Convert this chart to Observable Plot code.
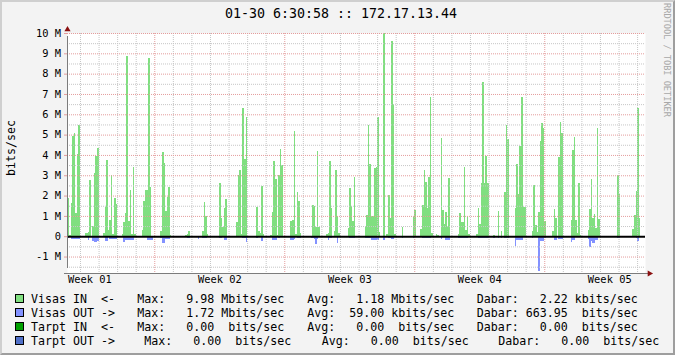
<!DOCTYPE html>
<html>
<head>
<meta charset="utf-8">
<script src="https://cdn.jsdelivr.net/npm/d3@7"></script>
<script src="https://cdn.jsdelivr.net/npm/@observablehq/plot@0.6"></script>
<style>
  html, body { margin: 0; padding: 0; background: #ffffff; }
  #wrap { position: relative; width: 675px; height: 355px; background: #f3f3f3; overflow: hidden;
          font-family: "DejaVu Sans Mono", monospace; color: #000; }
  #wrap svg { position: absolute; left: 0; top: 0; }
  .t { position: absolute; white-space: pre; line-height: 14px; }
  #frame { position: absolute; left: 0; top: 0; width: 675px; height: 355px; box-sizing: border-box;
           border-style: solid; border-width: 2px; border-color: #cfcfcf #9e9e9e #9e9e9e #cfcfcf; pointer-events: none; }
  .sw { position: absolute; width: 7px; height: 7px; border: 1px solid #000; }
</style>
</head>
<body>
<div id="wrap"></div>
<script>
// ---- data (values in Mbits/sec, one sample every 2 hours) ----
const title = "01-30 6:30:58 :: 172.17.13.44";
const yLabel = "bits/sec";
const watermark = "RRDTOOL / TOBI OETIKER";
const startHour = -18;   // first sample, hours relative to first midnight shown
const stepHours = 2;

const visasIn = [
  4.6, 1.9, 0.05, 1.65, 4.95, 5.1, 1.15, 4.05, 5.45, 0, 0, 0,
  0.16, 0.16, 0.2, 2.77, 0, 0.5, 3.1, 3.95, 4.35, 0, 0, 0,
  0.15, 1.45, 3.75, 0.3, 0.8, 3.0, 0.1, 1.9, 1.6, 0, 0, 0,
  0.1, 0.7, 1.15, 8.85, 0.77, 2.25, 0.1, 3.4, 0.1, 0, 0, 0,
  0, 0.33, 1.75, 2.25, 2.25, 8.75, 2.43, 0, 0, 0, 0, 0,
  0, 0.25, 4.15, 3.6, 1.25, 1.95, 2.43, 0.08, 0, 0, 0, 0,
  0, 0, 0, 0, 0, 0.05, 0.1, 0.28, 0, 0, 0, 0,
  0, 0, 0, 0, 0.28, 1.7, 1.0, 0.12, 0, 0, 0, 0,
  0, 0, 0, 2.6, 0.9, 0.43, 1.4, 1.85, 0, 0, 0, 0,
  0, 0, 0.7, 3.0, 3.25, 0.1, 6.3, 3.8, 5.87, 0, 0, 0,
  0, 0, 0, 1.45, 0.28, 0.15, 2.47, 0.1, 0, 0, 0, 0,
  0.08, 1.2, 3.7, 2.82, 0.08, 3.0, 4.3, 3.5, 0, 0, 0, 0,
  0, 0.75, 0.8, 5.2, 0.1, 2.2, 1.75, 0.15, 0, 0, 0, 0,
  0, 0, 0, 1.55, 1.5, 0.43, 4.2, 0.43, 0, 0, 0, 0,
  0.1, 0.18, 3.7, 1.4, 0, 0.27, 3.27, 1.0, 0.18, 0, 0, 0,
  0, 0, 0.4, 2.38, 1.5, 0.75, 2.92, 0, 0, 0, 0, 0,
  0, 0.5, 1.05, 5.48, 3.55, 1.0, 1.0, 3.35, 3.4, 5.87, 0.2, 0,
  0, 9.98, 0, 0.1, 2.03, 0.9, 9.6, 6.5, 0.1, 0, 0, 0,
  0, 0.46, 0, 0, 0, 0, 0, 0, 0.95, 1.3, 0, 0,
  0, 0.36, 1.55, 3.27, 2.67, 1.4, 2.92, 6.85, 0.15, 0, 0, 0.1,
  0.08, 0, 4.83, 1.3, 0.6, 1.2, 0.46, 2.87, 0, 0, 0, 0,
  0, 0.1, 1.15, 0.7, 0.7, 3.4, 0.3, 1.0, 0.1, 0, 0, 0,
  0, 0.12, 1.4, 0.6, 2.6, 7.6, 2.62, 3.95, 2.62, 0, 0, 0,
  0.08, 0, 0, 1.25, 0, 0.27, 0, 2.2, 5.45, 4.8, 0, 0,
  0, 0, 1.4, 3.55, 2.08, 4.45, 6.85, 1.45, 1.45, 0, 0, 0,
  0, 0.27, 2.5, 0.55, 0.2, 1.2, 4.7, 5.58, 5.33, 0.77, 0, 0,
  0, 0, 0.27, 1.35, 0.9, 0, 3.9, 5.62, 5.08, 0, 0, 0,
  0, 0, 0.8, 4.25, 4.9, 0.8, 0.15, 2.62, 0.08, 0, 0, 0,
  0, 0.3, 1.35, 2.82, 0.9, 1.1, 0.4, 5.33, 0.85, 0, 0, 0,
  0, 0, 0, 0, 0, 0, 0, 0, 3.0, 2.08, 0, 0,
  0, 0, 0, 0, 0, 0, 0.36, 1.05, 2.23, 6.3, 0.9, 0,
  0, 0, 0
];

const visasOut = [
  -0.1, -0.1, -0.05, -0.13, -0.13, -0.15, -0.15, -0.15, -0.15, 0, 0, 0,
  0, 0, -0.2, 0, 0, -0.25, -0.28, -0.28, -0.25, 0, 0, 0,
  0, -0.25, -0.25, 0, -0.15, -0.15, -0.15, -0.15, -0.15, 0, 0, 0,
  0, -0.3, -0.18, -0.18, -0.18, -0.18, -0.18, -0.18, 0, 0, 0, 0,
  0, 0, 0, 0, -0.2, -0.2, -0.2, -0.2, 0, 0, 0, 0,
  0, -0.1, -0.33, -0.33, -0.15, -0.15, -0.15, 0, 0, 0, 0, 0,
  0, 0, 0, 0, -0.05, 0, -0.08, -0.08, 0, 0, 0, 0,
  0, -0.12, 0, 0, -0.1, -0.1, -0.1, 0, 0, 0, 0, 0,
  0, 0, 0, -0.08, -0.08, 0, -0.18, -0.18, 0, 0, 0, 0,
  -0.05, 0, 0, 0, 0, 0, -0.1, -0.1, -0.28, 0, 0, 0,
  0, 0, 0, -0.08, 0, 0, -0.25, 0, 0, 0, 0, 0,
  0, -0.18, -0.18, -0.18, 0, -0.1, 0, 0, 0, 0, 0, 0,
  0, -0.2, -0.2, -0.12, 0, -0.08, -0.08, -0.08, 0, 0, 0, 0,
  0, 0, -0.1, -0.1, -0.13, -0.36, -0.13, 0, 0, 0, 0, 0,
  0, -0.2, -0.1, -0.1, 0, 0, 0, -0.34, 0, 0, 0, 0,
  0, 0, 0, -0.1, -0.08, -0.08, -0.08, 0, 0, 0, 0, 0,
  0, -0.08, -0.08, -0.08, -0.08, -0.18, -0.18, -0.18, -0.18, -0.2, 0, 0,
  0, -0.2, 0, 0, -0.1, -0.1, -0.15, -0.15, 0, 0, 0, 0,
  0, -0.1, 0, 0, 0, 0, 0, 0, -0.1, 0, 0, 0,
  0, 0, -0.1, -0.1, -0.1, -0.1, -0.1, -0.1, 0, 0, 0, 0,
  0, 0, -0.15, 0, 0, -0.2, -0.2, -0.2, 0, 0, 0, 0,
  0, -0.08, -0.08, -0.08, -0.08, -0.08, -0.08, -0.08, 0, 0, 0, 0,
  0, 0, -0.1, -0.1, -0.1, -0.1, -0.1, -0.1, -0.1, 0, 0, 0,
  -0.1, 0, 0, -0.1, 0, -0.1, 0, -0.1, -0.1, -0.1, 0, 0,
  0, 0, -0.5, -0.2, -0.2, -0.2, -0.2, 0, 0, 0, 0, 0,
  0, -0.1, 0, 0, 0, -1.72, -0.25, -0.25, -0.25, -0.1, 0, 0,
  0, 0, 0, -0.2, -0.2, 0, -0.15, -0.15, -0.15, 0, 0, 0,
  0, 0, -0.3, -0.2, -0.2, 0, 0, 0, 0, 0, 0, 0,
  0, -0.15, -0.55, -0.25, -0.33, -0.33, -0.18, -0.18, 0, 0, 0, 0,
  0, 0, 0, 0, 0, 0, 0, 0, -0.1, -0.1, 0, 0,
  0, 0, 0, 0, 0, 0, 0, 0, -0.1, -0.25, 0, 0,
  0, 0, 0
];

const weekLabels = ["Week 01", "Week 02", "Week 03", "Week 04", "Week 05"];
const weekLabelHours = [12, 180, 348, 516, 684];
const weekStartHours = [96, 264, 432, 600];
const yTicks = [-1, 0, 1, 2, 3, 4, 5, 6, 7, 8, 9, 10];

const legendNames = ["Visas IN  <-", "Visas OUT ->", "Tarpt IN  <-", "Tarpt OUT ->"];
const legendColors = ["#80df80", "#8392ff", "#00a000", "#5070c8"];
const legendMax = ["  9.98 Mbits/sec", "  1.72 Mbits/sec", "  0.00  bits/sec", "  0.00  bits/sec"];
const legendAvg = ["  1.18 Mbits/sec", " 59.00 kbits/sec", "  0.00  bits/sec", "  0.00  bits/sec"];
const legendCur = ["  2.22 kbits/sec", "663.95  bits/sec", "  0.00  bits/sec", "  0.00  bits/sec"];

// ---- build ----
const xDomain = [-16.8, 730.2];
const yDomain = [-1.81, 10];
function series(vals) {
  const pts = vals.map((v, i) => ({t: startHour + i * stepHours, v}));
  pts.push({t: startHour + vals.length * stepHours, v: 0});
  return pts;
}
const inPts = series(visasIn);
const outPts = series(visasOut);

const dayHours = d3.range(0, xDomain[1], 24).filter(h => !weekStartHours.includes(h));
const minorY = d3.range(-1.5, 10, 1);
const majorY = yTicks.filter(d => d !== 0);

const GRID = "#c6c6c6";
const MGRID = "#e49c9c";
const AXIS = "#7c7c7c";
const ARROW = "#8b1010";

const chart = Plot.plot({
  width: 675, height: 355,
  marginLeft: 67, marginRight: 30, marginTop: 33, marginBottom: 82,
  style: {background: "transparent", fontFamily: "DejaVu Sans Mono", fontSize: "10.4px", color: "#000", overflow: "visible"},
  x: {domain: xDomain, axis: null},
  y: {domain: yDomain, axis: null},
  marks: [
    Plot.frame({fill: "#ffffff", stroke: null}),
    Plot.areaY(inPts, {x: "t", y: "v", curve: "step-after", fill: legendColors[0], clip: true, shapeRendering: "crispEdges"}),
    Plot.areaY(outPts, {x: "t", y: "v", curve: "step-after", fill: legendColors[1], clip: true, shapeRendering: "crispEdges"}),
    Plot.ruleY(minorY, {stroke: GRID, strokeDasharray: "1,1"}),
    Plot.ruleX(dayHours, {stroke: GRID, strokeDasharray: "1,1"}),
    Plot.ruleY(majorY, {stroke: MGRID, strokeDasharray: "1,1"}),
    Plot.ruleX(weekStartHours, {stroke: MGRID, strokeDasharray: "1,1"}),
    Plot.ruleY([0], {stroke: "#000", strokeWidth: 2}),
    Plot.axisY(yTicks, {anchor: "left", tickSize: 3, tickPadding: 3.5, stroke: MGRID, fill: "#000",
      tickFormat: d => d === 0 ? "0" : d + " M", label: null, fontSize: "10.4px"}),
    Plot.axisX(weekLabelHours, {anchor: "bottom", tickSize: 0, tickPadding: 2.5, fill: "#000",
      tickFormat: d => weekLabels[weekLabelHours.indexOf(d)], label: null, fontSize: "10.4px"}),
    Plot.ruleX([xDomain[0]], {y1: yDomain[0], y2: yDomain[1], stroke: AXIS, insetTop: -5, insetBottom: -3}),
    Plot.ruleY([yDomain[0]], {x1: xDomain[0], x2: xDomain[1], stroke: AXIS, insetLeft: -3, insetRight: -3}),
    Plot.dot([{x: xDomain[0], y: yDomain[1]}], {x: "x", y: "y", symbol: "triangle", r: 2.3, fill: ARROW, stroke: null, dy: -4}),
    Plot.dot([{x: xDomain[1], y: yDomain[0]}], {x: "x", y: "y", symbol: "triangle", r: 2.3, fill: ARROW, stroke: null, dx: 4, rotate: 90})
  ]
});

const wrap = document.getElementById("wrap");
wrap.appendChild(chart);

function addText(txt, css) {
  const d = document.createElement("div");
  d.className = "t";
  d.textContent = txt;
  Object.assign(d.style, css);
  wrap.appendChild(d);
  return d;
}
addText(title, {left: "341px", top: "6px", fontSize: "13.3px", lineHeight: "16px", transform: "translateX(-50%)"});
addText(yLabel, {left: "11px", top: "148px", fontSize: "11.6px", transform: "translate(-50%,-50%) rotate(-90deg)"});
addText(watermark, {left: "667px", top: "60px", fontSize: "8.6px", lineHeight: "10px", color: "#a8a8a8", transform: "translate(-50%,-50%) rotate(90deg)"});

const rowY = [298.5, 312.5, 326.5, 340.5];
const colX = [[137.3, 307.3, 476.7], [137.3, 307.3, 476.7], [137.3, 307.3, 476.7], [144.3, 321.7, 498.3]];
legendNames.forEach((name, i) => {
  const sw = document.createElement("div");
  sw.className = "sw";
  Object.assign(sw.style, {left: "15px", top: (rowY[i] - 4.5) + "px", background: legendColors[i]});
  wrap.appendChild(sw);
  const css = {fontSize: "11.63px", top: (rowY[i] - 7) + "px"};
  addText(name, {...css, left: "31px"});
  addText("Max: " + legendMax[i], {...css, left: colX[i][0] + "px"});
  addText("Avg: " + legendAvg[i], {...css, left: colX[i][1] + "px"});
  addText("Dabar: " + legendCur[i], {...css, left: colX[i][2] + "px"});
});

const fr = document.createElement("div");
fr.id = "frame";
wrap.appendChild(fr);
</script>
</body>
</html>
